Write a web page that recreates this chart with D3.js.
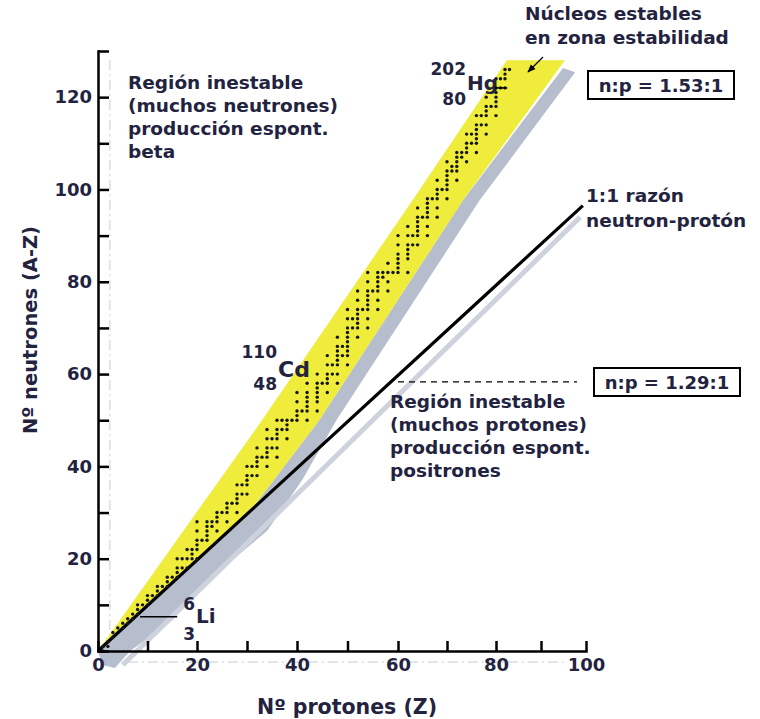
<!DOCTYPE html>
<html>
<head>
<meta charset="utf-8">
<style>
  body { margin: 0; background: #fff; }
  svg text { font-family: "DejaVu Sans", sans-serif; font-weight: 700; fill: #23233f; }
  .axis path, .axis line { stroke: #000; stroke-width: 2.5; }
</style>
</head>
<body>
<svg id="chart" width="760" height="719"></svg>
<script src="https://cdn.jsdelivr.net/npm/d3@7/dist/d3.min.js"></script>
<script>

// stable nuclides: proton number Z and its stable neutron numbers N
var stableZ = [1,2,3,4,5,6,7,8,9,10,11,12,13,14,15,16,17,18,19,20,
  21,22,23,24,25,26,27,28,29,30,31,32,33,34,35,36,37,38,39,40,
  41,42,44,45,46,47,48,49,50,51,52,53,54,55,56,57,58,59,60,62,
  63,64,65,66,67,68,69,70,71,72,73,74,75,76,77,78,79,80,81,82,83];
var stableN = [
  [0,1],[1,2],[3,4],[5],[5,6],[6,7],[7,8],[8,9,10],[10],[10,11,12],
  [12],[12,13,14],[14],[14,15,16],[16],[16,17,18,20],[18,20],[18,20,22],[20,21,22],[20,22,23,24,26,28],
  [24],[24,25,26,27,28],[27,28],[26,28,29,30],[30],[28,30,31,32],[32],[30,32,33,34,36],[34,36],[34,36,37,38,40],
  [38,40],[38,40,41,42,44],[42],[40,42,43,44,46,48],[44,46],[42,44,46,47,48,50],[48,50],[46,48,49,50],[50],[50,51,52,54,56],
  [52],[50,52,53,54,55,56,58],[52,54,55,56,57,58,60],[58],[56,58,59,60,62,64],[60,62],[58,60,62,63,64,65,66,68],[64,66],
  [62,64,65,66,67,68,69,70,72,74],[70,72],[68,70,71,72,73,74,76,78],[74],[70,72,74,75,76,77,78,80,82],[78],
  [74,76,78,79,80,81,82],[81,82],[78,80,82,84],[82],[82,83,84,85,86,88,90],[82,85,86,87,88,90,92],
  [88,90],[88,90,91,92,93,94,96],[94],[90,92,94,95,96,97,98],[98],[94,96,98,99,100,102],[100],
  [98,100,101,102,103,104,106],[104,105],[102,104,105,106,107,108],[107,108],[106,108,109,110,112],[110,112],
  [108,110,111,112,113,114,116],[114,116],[112,114,116,117,118,120],[118],[116,118,119,120,121,122,124],
  [122,124],[122,124,125,126],[126]
];

// axis ticks
var xTicks = [0,10,20,30,40,50,60,70,80,90,100];
var yTicks = [0,10,20,30,40,50,60,70,80,90,100,110,120,130];
var xLabels = [0,20,40,60,80,100];
var yLabels = [0,20,40,60,80,100,120];

// zone of stability (Z, N)
var bandUpper = [[0,0],[33,50],[63,97.7],[82.4,128]];
var bandLower = [[95.3,128],[73.3,97.7],[44.4,50],[29.5,28.7],[0,0]];
var shadowBand = [[0,0],[29.5,28.7],[44.4,50],[73.3,97.7],[94.9,126.3],[97.6,125.4],[76.7,97.7],
  [47.8,50],[41,37],[34,26],[20.6,13.9],[15.1,6.7],[6.5,0],[3.4,-3.7],[0.8,-3]];
var ratioLine = [[0,0],[99.3,96.5]];
var ratioShadow = [[5,-3],[98.7,94]];
var ratioLevel = [[60,58.3],[98,58.3]];

var svg = d3.select("#chart");

var x = d3.scaleLinear()
  .domain([0,20,40,60,80,100])
  .range([98,197,297,398,496,586]);
var y = d3.scaleLinear()
  .domain([0,130])
  .range([651,51]);

var line = d3.line()
  .x(function(d) { return x(d[0]); })
  .y(function(d) { return y(d[1]); });

// faint guide lines along the axes
svg.append("line")
  .attr("x1", x(2.4)).attr("x2", x(2.4))
  .attr("y1", y(128)).attr("y2", y(3))
  .attr("stroke", "#c9ccd6").attr("stroke-width", 1)
  .attr("stroke-dasharray", "10,4,2,4");
svg.append("line")
  .attr("x1", x(2)).attr("x2", x(96))
  .attr("y1", y(-2.4)).attr("y2", y(-2.4))
  .attr("stroke", "#c9ccd6").attr("stroke-width", 1)
  .attr("stroke-dasharray", "10,4,2,4");

// shadows
svg.append("path")
  .attr("d", line(shadowBand) + "Z")
  .attr("fill", "#b6bdcd");
svg.append("path")
  .attr("d", line(ratioShadow))
  .attr("stroke", "#cdd2dc").attr("stroke-width", 5)
  .attr("fill", "none");

// yellow band
svg.append("path")
  .attr("d", line(bandUpper.concat(bandLower)) + "Z")
  .attr("fill", "#efec3b");

// 1:1 line
svg.append("path")
  .attr("d", line(ratioLine))
  .attr("stroke", "#000").attr("stroke-width", 3.2)
  .attr("fill", "none");

// stable nuclei
var points = [];
stableZ.forEach(function(z, i) {
  stableN[i].forEach(function(n) { points.push([z, n]); });
});
svg.append("g").selectAll("circle")
  .data(points)
  .enter().append("circle")
  .attr("cx", function(d) { return x(d[0]); })
  .attr("cy", function(d) { return y(d[1]); })
  .attr("r", 1.7)
  .attr("fill", "#161616");

// axes (ticks point inward)
svg.append("g")
  .attr("class", "axis")
  .attr("transform", "translate(0," + y(0) + ")")
  .call(d3.axisBottom(x).tickValues(xTicks).tickSizeInner(-10).tickSizeOuter(0).tickPadding(7)
    .tickFormat(function(d) { return xLabels.indexOf(d) >= 0 ? d : ""; }));
svg.append("g")
  .attr("class", "axis")
  .attr("transform", "translate(" + x(0) + ",0)")
  .call(d3.axisLeft(y).tickValues(yTicks).tickSizeInner(-11).tickSizeOuter(0).tickPadding(6)
    .tickFormat(function(d) { return yLabels.indexOf(d) >= 0 ? d : ""; }));
svg.selectAll(".axis text")
  .style("font-size", "18px")
  .style("fill", "#23233f");
svg.selectAll(".axis .domain").attr("stroke-linecap", "square");

// axis titles
svg.append("text")
  .attr("x", 347).attr("y", 714)
  .attr("text-anchor", "middle")
  .style("font-size", "20.5px")
  .text("Nº  protones (Z)");
svg.append("text")
  .attr("transform", "translate(37,330) rotate(-90)")
  .attr("text-anchor", "middle")
  .style("font-size", "19.5px")
  .text("Nº neutrones (A-Z)");

// multi-line notes
function note(lines, x0, y0, dy) {
  var t = svg.append("text").style("font-size", "18.5px");
  lines.forEach(function(s, i) {
    t.append("tspan").attr("x", x0).attr("y", y0 + i * dy).text(s);
  });
}
note(["Región inestable", "(muchos neutrones)", "producción espont.", "beta"], 128, 89, 23);
note(["Región inestable", "(muchos protones)", "producción espont.", "positrones"], 390, 408, 23);
note(["Núcleos estables", "en zona estabilidad"], 525, 20, 24);
note(["1:1 razón", "neutron-protón"], 586, 202, 25);

// arrow to the band
svg.append("defs").append("marker")
  .attr("id", "head").attr("viewBox", "0 0 10 10")
  .attr("refX", 9).attr("refY", 5)
  .attr("markerWidth", 7).attr("markerHeight", 7)
  .attr("orient", "auto")
  .append("path").attr("d", "M0,1L10,5L0,9Z").attr("fill", "#000");
svg.append("line")
  .attr("x1", 543).attr("y1", 57).attr("x2", 528).attr("y2", 72)
  .attr("stroke", "#000").attr("stroke-width", 1.2)
  .attr("marker-end", "url(#head)");

// n:p boxes
function ratioBox(label, x0, y0) {
  svg.append("rect")
    .attr("x", x0).attr("y", y0).attr("width", 146).attr("height", 28)
    .attr("fill", "#fff").attr("stroke", "#000").attr("stroke-width", 2);
  svg.append("text")
    .attr("x", x0 + 73).attr("y", y0 + 21)
    .attr("text-anchor", "middle")
    .style("font-size", "18px")
    .text(label);
}
ratioBox("n:p = 1.53:1", 588, 71);
ratioBox("n:p = 1.29:1", 594, 368);

svg.append("path")
  .attr("d", line(ratioLevel))
  .attr("stroke", "#000").attr("stroke-width", 1.3)
  .attr("stroke-dasharray", "6,5")
  .attr("fill", "none");

// isotope labels
function isotope(sym, mass, z, sx, sy, size, up, down) {
  svg.append("text").attr("x", sx).attr("y", sy)
    .style("font-size", size + "px").text(sym);
  svg.append("text").attr("x", sx - 1).attr("y", sy - up)
    .attr("text-anchor", "end").style("font-size", "17px").text(mass);
  svg.append("text").attr("x", sx - 1).attr("y", sy + down)
    .attr("text-anchor", "end").style("font-size", "17px").text(z);
}
isotope("Li", 6, 3, 196, 623, 20, 13, 17);
isotope("Cd", 110, 48, 278, 377, 22, 19, 13);
isotope("Hg", 202, 80, 467, 90, 20, 15, 15);

svg.append("path")
  .attr("d", line([[8.5,7.4],[16,7.4]]))
  .attr("stroke", "#000").attr("stroke-width", 1.5);
svg.append("path")
  .attr("d", line([[79.8,122],[82.5,122]]))
  .attr("stroke", "#000").attr("stroke-width", 1.5);

</script>
</body>
</html>
